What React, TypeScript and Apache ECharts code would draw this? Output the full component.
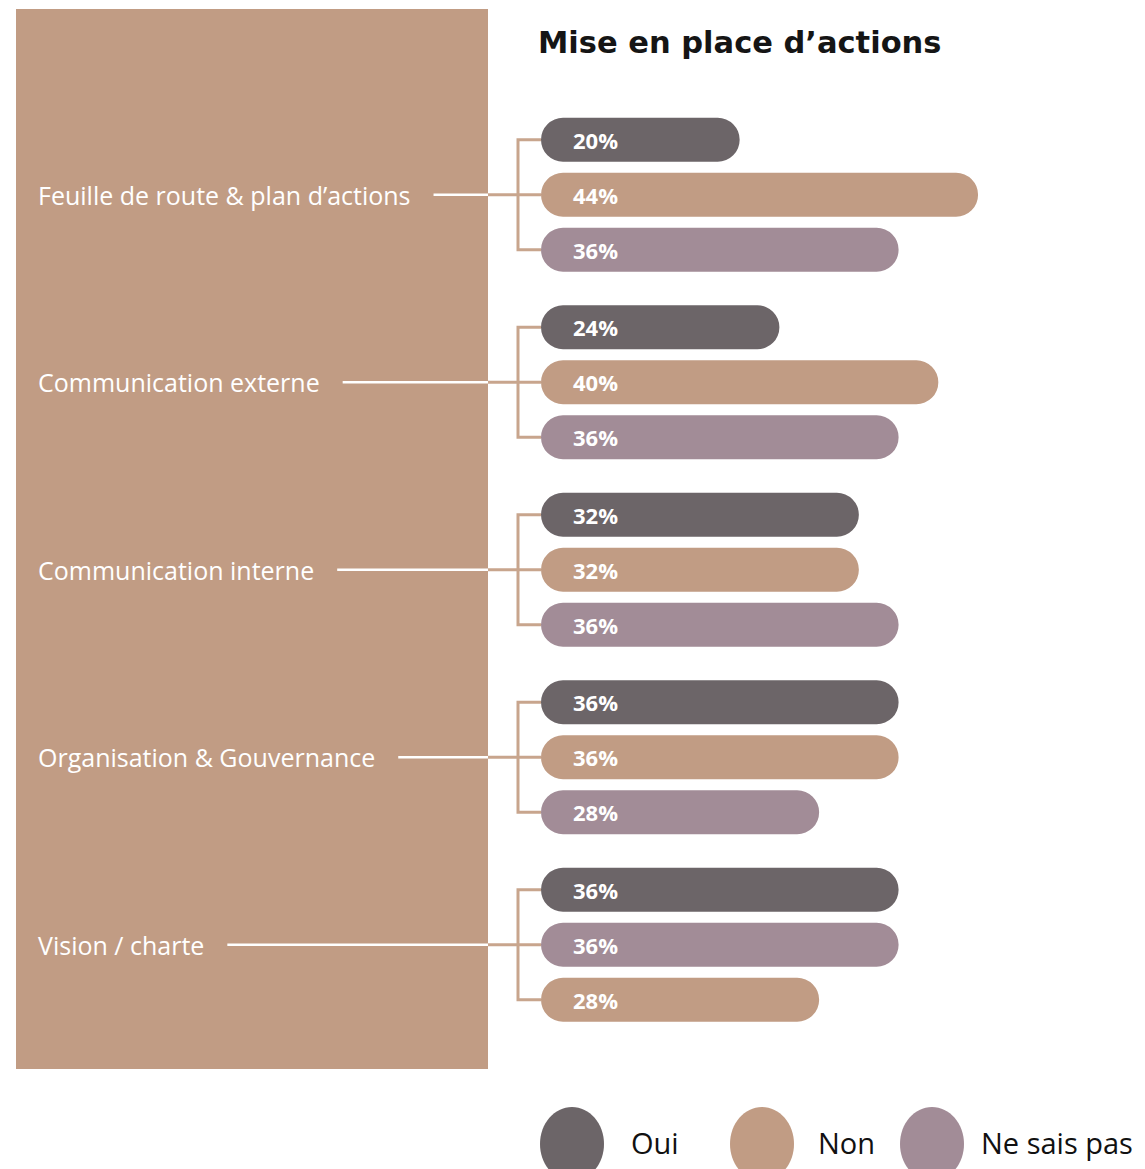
import React, { useEffect, useRef } from "react";
import * as echarts from "echarts";

const categories = [
  "Feuille de route & plan d’actions",
  "Communication externe",
  "Communication interne",
  "Organisation & Gouvernance",
  "Vision / charte",
];
const ouiValues = [20, 24, 32, 36, 36];
const nonValues = [44, 40, 32, 36, 28];
const nspValues = [36, 36, 36, 28, 36];
// top-to-bottom order of the three bars in each group
const barOrder = [
  ["oui", "non", "nsp"],
  ["oui", "non", "nsp"],
  ["oui", "non", "nsp"],
  ["oui", "non", "nsp"],
  ["oui", "nsp", "non"],
];
const legendKeys = ["oui", "non", "nsp"];
const legendNames: Record<string, string> = { oui: "Oui", non: "Non", nsp: "Ne sais pas" };

const COLORS: Record<string, string> = { oui: "#6c6568", non: "#c19c84", nsp: "#a28c97" };
const PANEL = "#c19c84";
const BRACKET = "#c8a58d";
const FONT = "'Open Sans', 'Noto Sans', sans-serif";
const TITLE_FONT = "'DejaVu Sans', sans-serif";
const BAR_W = 44;
const PANEL_RIGHT = 488;
const BRACKET_X = 518;
const LABEL_X = 38;
const LEADER_GAP = 23;
const LABEL_SIZE = 25;

const valuesByKey: Record<string, number[]> = { oui: ouiValues, non: nonValues, nsp: nspValues };

function measure(text: string, font: string): number {
  const c = document.createElement("canvas");
  const ctx = c.getContext("2d");
  if (!ctx) return text.length * 11;
  ctx.font = font;
  return ctx.measureText(text).width;
}

export default function App() {
  const ref = useRef<HTMLDivElement>(null);
  useEffect(() => {
    if (!ref.current) return;
    const chart = echarts.init(ref.current, undefined, { renderer: "svg" });
    const labelWidths = categories.map((c) => measure(c, `${LABEL_SIZE}px 'Open Sans'`));

    const rowSeries = [0, 1, 2].map((row) => ({
      type: "bar",
      name: "row" + row,
      barWidth: BAR_W,
      barGap: "25%",
      z: 4,
      data: categories.map((_, i) => {
        const k = barOrder[i][row];
        return {
          value: valuesByKey[k][i],
          name: legendNames[k],
          itemStyle: { color: COLORS[k], borderRadius: BAR_W / 2 },
        };
      }),
      label: {
        show: true,
        position: "insideLeft",
        distance: 32,
        formatter: "{c}%",
        color: "#ffffff",
        fontSize: 22,
        fontWeight: "bold",
        fontFamily: FONT,
      },
    }));

    const connector = {
      type: "custom",
      coordinateSystem: "cartesian2d",
      silent: true,
      z: 2,
      clip: false,
      encode: { x: 0, y: 1 },
      data: categories.map((_, i) => [0, i]),
      renderItem: (params: any, api: any) => {
        const i = api.value(1);
        const pt = api.coord([0, i]);
        const x0 = pt[0];
        const yc = pt[1];
        const step = BAR_W * 1.25;
        const start = LABEL_X + labelWidths[i] + LEADER_GAP;
        return {
          type: "group",
          children: [
            {
              type: "line",
              shape: { x1: start, y1: yc, x2: PANEL_RIGHT, y2: yc },
              style: { stroke: "#ffffff", lineWidth: 2.5 },
            },
            {
              type: "line",
              shape: { x1: PANEL_RIGHT, y1: yc, x2: x0, y2: yc },
              style: { stroke: BRACKET, lineWidth: 3 },
            },
            {
              type: "polyline",
              shape: {
                points: [
                  [x0, yc - step],
                  [BRACKET_X, yc - step],
                  [BRACKET_X, yc + step],
                  [x0, yc + step],
                ],
              },
              style: { stroke: BRACKET, lineWidth: 3, fill: null },
            },
          ],
        };
      },
    };

    const legendCx = [572, 762, 932];
    const legendTx = [631, 818, 981];
    const legendGraphics: any[] = [];
    legendKeys.forEach((k, j) => {
      legendGraphics.push({
        type: "ellipse",
        shape: { cx: legendCx[j], cy: 1144, rx: 32, ry: 37 },
        style: { fill: COLORS[k] },
      });
      legendGraphics.push({
        type: "text",
        x: legendTx[j],
        y: 1142,
        style: {
          text: legendNames[k],
          fill: "#111111",
          fontSize: 29,
          fontFamily: FONT,
          verticalAlign: "middle",
        },
      });
    });

    chart.setOption({
      animation: false,
      backgroundColor: "#ffffff",
      title: {
        text: "Mise en place d’actions",
        left: 533,
        top: 22,
        textStyle: { fontSize: 30.5, fontWeight: "bold", color: "#151515", fontFamily: TITLE_FONT },
      },
      grid: { left: 541, right: 8, top: 101, bottom: 130.5, containLabel: false },
      xAxis: { type: "value", min: 0, max: 60, show: false },
      yAxis: {
        type: "category",
        inverse: true,
        data: categories,
        z: 6,
        axisLine: { show: false },
        axisTick: { show: false },
        splitLine: { show: false },
        axisLabel: {
          align: "left",
          margin: 541 - LABEL_X,
          color: "#ffffff",
          fontSize: LABEL_SIZE,
          fontFamily: FONT,
        },
      },
      graphic: [
        {
          type: "rect",
          z: -10,
          shape: { x: 16, y: 9, width: PANEL_RIGHT - 16, height: 1060 },
          style: { fill: PANEL },
        },
        ...legendGraphics,
      ],
      series: [connector, ...rowSeries],
    });
    return () => chart.dispose();
  }, []);
  return (
    <div
      ref={ref}
      style={{ position: "absolute", left: 0, top: 0, width: 1145, height: 1169 }}
    />
  );
}
